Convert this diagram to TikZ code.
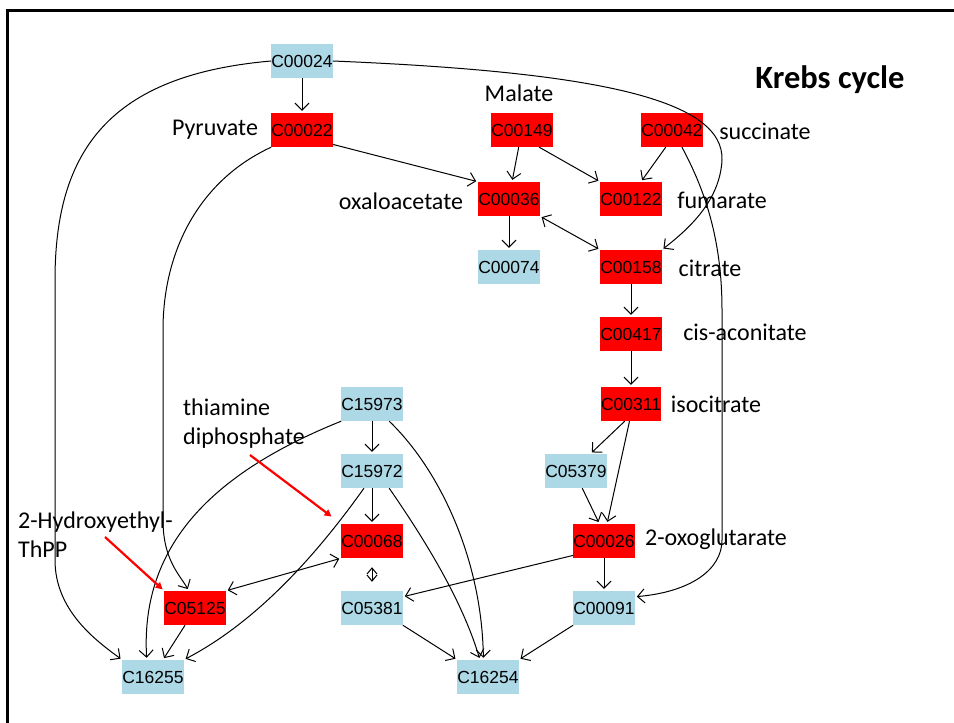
\documentclass[tikz,border=0pt]{standalone}
\usepackage{fontspec}
\setmainfont{Carlito}
\newfontfamily\arialfont{Liberation Sans}
\usetikzlibrary{arrows.meta}

\definecolor{keggred}{HTML}{FF0000}
\definecolor{keggblue}{HTML}{ADD8E6}

\tikzset{
	cpd/.style={minimum width=60pt, minimum height=34pt, inner sep=0pt,
		font=\arialfont\fontsize{17.5}{19}\selectfont},
	redcpd/.style={cpd, fill=keggred},
	bluecpd/.style={cpd, fill=keggblue},
	name label/.style={font=\fontsize{24}{29}\selectfont, inner sep=0pt},
	arr/.style={line width=1pt, -{Straight Barb[length=7pt,width=14pt]}, shorten >=2pt},
	dbl/.style={line width=1pt, {Straight Barb[length=7pt,width=14pt]}-{Straight Barb[length=7pt,width=14pt]}, shorten >=2pt, shorten <=2pt},
	pointer/.style={draw=keggred, line width=2.2pt, -{Triangle[length=7pt,width=7pt]}}
}

\begin{document}
\begin{tikzpicture}[x=1pt,y=-1pt]
			\useasboundingbox (0,0) rectangle (954,723);
			\draw[line width=3pt] (7.5,723) -- (7.5,10.5) -- (954,10.5);
			
			\node[bluecpd] (c00024) at (302,61) {C00024};
			\node[redcpd] (c00022) at (302,130) {C00022};
			\node[redcpd] (c00149) at (522,130) {C00149};
			\node[redcpd] (c00042) at (672,130) {C00042};
			\node[redcpd] (c00036) at (509,199) {C00036};
			\node[redcpd] (c00122) at (631,199) {C00122};
			\node[bluecpd] (c00074) at (509,267) {C00074};
			\node[redcpd] (c00158) at (631,267) {C00158};
			\node[redcpd] (c00417) at (631,334) {C00417};
			\node[redcpd] (c00311) at (631,404) {C00311};
			\node[bluecpd] (c05379) at (576,471) {C05379};
			\node[redcpd] (c00026) at (604,541) {C00026};
			\node[bluecpd] (c00091) at (604,608) {C00091};
			\node[bluecpd] (c16254) at (488,677) {C16254};
			\node[bluecpd] (c15973) at (372,404) {C15973};
			\node[bluecpd] (c15972) at (372,471) {C15972};
			\node[redcpd] (c00068) at (372,541) {C00068};
			\node[bluecpd] (c05381) at (372,608) {C05381};
			\node[redcpd] (c05125) at (195,608) {C05125};
			\node[bluecpd] (c16255) at (153,677) {C16255};
			
			\node[name label] (pyruvate) at (215,130) {Pyruvate};
			\node[name label] (malate) at (519,93) {Malate};
			\node[name label] (succinate) at (765,131) {succinate};
			\node[name label] (oxaloacetate) at (401,201) {oxaloacetate};
			\node[name label] (fumarate) at (722,200) {fumarate};
			\node[name label] (citrate) at (710,268) {citrate};
			\node[name label] (aconitate) at (745,332) {cis-aconitate};
			\node[name label] (isocitrate) at (716,404) {isocitrate};
			\node[name label] (oxoglutarate) at (716,539) {2-oxoglutarate};
			\node[name label, anchor=west, align=left] (thiamine) at (183,424) {thiamine\\diphosphate};
			\node[name label, anchor=west, align=left] (hydroxyethyl) at (18,535) {2-Hydroxyethyl-\\ThPP};
			\node[font=\bfseries\fontsize{32.5}{39}\selectfont, inner sep=0pt] (title) at (830,80) {Krebs cycle};
			
			\draw[arr] (c00024) -- (c00022);
			\draw[arr] (c00024.west) .. controls (110,75) and (55,150) .. (55,280) -- (55,560) .. controls (55,610) and (95,640) .. (c16255.north west);
			\draw[arr] (c00024.east) .. controls (600,72) and (724,100) .. (722,160) .. controls (720,200) and (690,228) .. (c00158.north east);
			\draw[arr] (c00022.-25) -- (c00036.north west);
			\draw[arr] (c00022.south west) .. controls (200,180) and (163,250) .. (163,330) -- (163,520) .. controls (163,560) and (180,575) .. (c05125.110);
			\draw[arr] (c00149) -- (c00036.80);
			\draw[arr] (c00149.-45) -- (c00122.north west);
			\draw[arr] (c00042.-110) -- (c00122.60);
			\draw[arr] (c00042.-60) .. controls (705,190) and (722,240) .. (722,310) -- (722,540) .. controls (722,570) and (690,592) .. (c00091.20);
			\draw[arr] (c00036) -- (c00074);
			\draw[dbl] (c00036.south east) -- (c00158.north west);
			\draw[arr] (c00158) -- (c00417);
			\draw[arr] (c00417) -- (c00311);
			\draw[arr] (c00311.-110) -- (c05379.50);
			\draw[arr] (c00311.-95) -- (c00026.80);
			\draw[arr] (c05379.-70) -- (c00026.105);
			\draw[arr] (c00026) -- (c00091);
			\draw[arr] (c00026.205) -- (c05381.20);
			\draw[arr] (c00091.south west) -- (c16254.north east);
			\draw[arr] (c05381.south east) -- (c16254.north west);
			\draw[arr] (c15973) -- (c15972);
			\draw[arr] (c15973.-45) .. controls (440,470) and (482,560) .. (c16254.105);
			\draw[arr] (c15973.south west) .. controls (220,470) and (140,540) .. (c16255.110);
			\draw[arr] (c15972) -- (c00068);
			\draw[arr] (c15972.-45) .. controls (425,540) and (462,600) .. (c16254.115);
			\draw[arr] (c15972.-115) .. controls (320,550) and (260,620) .. (c16255.north east);
			\draw[dbl] (c00068.south west) -- (c05125.north east);
			\draw[line width=1pt, {Straight Barb[length=6pt,width=10pt]}-{Straight Barb[length=6pt,width=10pt]}, shorten >=9pt, shorten <=9pt] (c00068) -- (c05381);
			\draw[arr] (c05125.-120) -- (c16255.60);
			
			\coordinate (tpptail) at (250,455);
			\coordinate (hetail) at (105,537);
			\draw[pointer, shorten >=12pt] (tpptail) -- (c00068.north west);
			\draw[pointer, shorten >=2pt] (hetail) -- (c05125.north west);
		\end{tikzpicture}
\end{document}
